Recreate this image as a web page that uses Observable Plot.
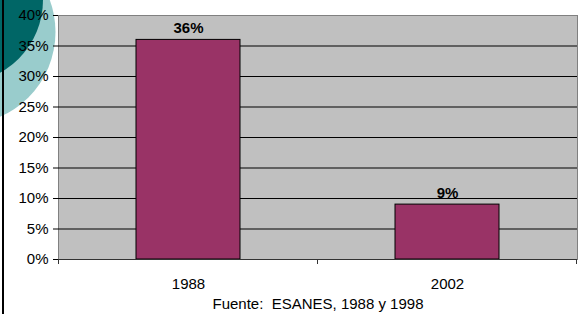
<!DOCTYPE html>
<html>
<head>
<meta charset="utf-8">
<script src="https://cdn.jsdelivr.net/npm/d3@7"></script>
<script src="https://cdn.jsdelivr.net/npm/@observablehq/plot@0.6"></script>
<style>
  html, body { margin: 0; padding: 0; background: white; overflow: hidden; }
  #wrap { position: relative; width: 579px; height: 314px; overflow: hidden; }
  #deco { position: absolute; left: 0; top: 0; }
  #chart { position: absolute; left: 0; top: 0; }
  svg text { white-space: pre; }
</style>
</head>
<body>
<div id="wrap">
  <svg id="deco" width="579" height="314">
    <circle cx="-37" cy="32" r="92.5" fill="#99CCCC"></circle>
    <circle cx="-40" cy="0" r="83" fill="#006666"></circle>
  </svg>
  <div id="chart"></div>
  <svg id="border" width="579" height="314" style="position:absolute;left:0;top:0;pointer-events:none">
    <rect x="2" y="0" width="2" height="314" fill="#000"></rect>
  </svg>
</div>
<script>
const years = ["1988", "2002"];
const values = [36, 9];
const valueLabels = ["36%", "9%"];
const yTicks = [0, 5, 10, 15, 20, 25, 30, 35, 40];
const gridTicks = [5, 10, 15, 20, 25, 30, 35];
const caption = "Fuente:  ESANES, 1988 y 1998";

const data = years.map((y, i) => ({year: y, value: values[i], label: valueLabels[i]}));

// category boundary ticks on the x axis, computed from the band scale
function bandTicks(index, scales, values, dimensions) {
  const x = scales.x;
  const step = x(years[1]) - x(years[0]);
  const bw = typeof x.bandwidth === "function" ? x.bandwidth() : +x.bandwidth;
  const gap = (step - bw) / 2;
  const xs = years.map(c => x(c) - gap);
  xs.push(x(years[years.length - 1]) + bw + gap);
  const y0 = dimensions.height - dimensions.marginBottom;
  const g = document.createElementNS("http://www.w3.org/2000/svg", "g");
  for (const px of xs) {
    if (!isFinite(px)) continue;
    const l = document.createElementNS("http://www.w3.org/2000/svg", "line");
    l.setAttribute("x1", px); l.setAttribute("x2", px);
    l.setAttribute("y1", y0); l.setAttribute("y2", y0 + 5);
    l.setAttribute("stroke", "#333");
    g.appendChild(l);
  }
  return g;
}

const plot = Plot.plot({
  width: 579,
  height: 314,
  marginTop: 15,
  marginBottom: 55,
  marginLeft: 58,
  marginRight: 2,
  style: {background: "transparent", fontFamily: "'Liberation Sans', Arial, sans-serif", fontSize: "15px", color: "#000"},
  x: {domain: years, paddingInner: 0.6, paddingOuter: 0.3, axis: null},
  y: {domain: [0, 40], axis: null},
  marks: [
    Plot.frame({fill: "#C0C0C0", stroke: "#808080"}),
    Plot.ruleY(gridTicks, {stroke: "#000", strokeWidth: 1}),
    Plot.barY(data, {x: "year", y: "value", fill: "#993366", stroke: "#000", strokeWidth: 1}),
    Plot.ruleY([0], {stroke: "#333", strokeWidth: 1.2}),
    Plot.text(data, {x: "year", y: "value", text: "label", fontWeight: "bold", fontSize: 15, lineAnchor: "bottom", dy: -7, fill: "#000"}),
    Plot.axisY({ticks: yTicks, tickFormat: d => d + "%", tickSize: 5, tickPadding: 5, fontSize: 15, stroke: "#000", fill: "#000", label: null}),
    Plot.axisX({tickSize: 0, tickPadding: 19, fontSize: 15, fill: "#000", label: null}),
    bandTicks,
    Plot.text([caption], {frameAnchor: "bottom", dy: 45, lineAnchor: "middle", fontSize: 15, fill: "#000", text: d => d})
  ]
});
document.getElementById("chart").appendChild(plot);
</script>
</body>
</html>
